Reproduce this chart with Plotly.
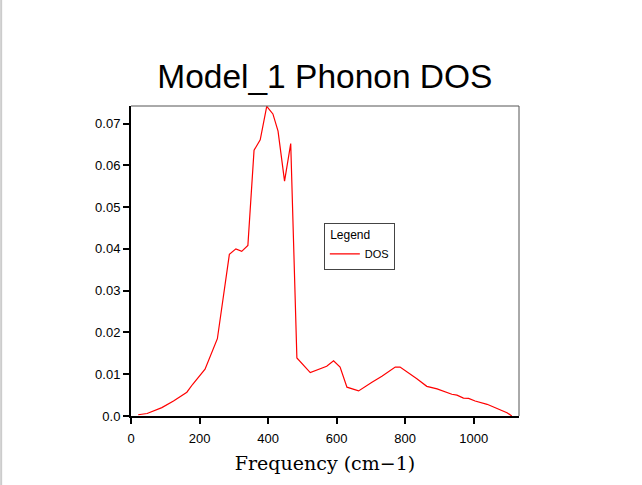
import plotly.graph_objects as go

# phonon density of states
freq = [21, 47, 90, 124, 163, 180, 216, 252, 287, 306, 323, 341, 359, 377,
        396, 414, 429, 448, 466, 484, 523, 571, 591, 610, 630, 664, 703, 732,
        771, 785, 834, 863, 893, 936, 951, 970, 985, 1004, 1039, 1077, 1097, 1111]
dos = [0.0003, 0.0006, 0.0020, 0.0036, 0.0057, 0.0076, 0.0112, 0.0185, 0.0387,
       0.0400, 0.0394, 0.0408, 0.0636, 0.0661, 0.0741, 0.0723, 0.0682, 0.0562,
       0.0652, 0.0139, 0.0104, 0.0119, 0.0132, 0.0117, 0.0069, 0.0060, 0.0081,
       0.0095, 0.0117, 0.0117, 0.0089, 0.0071, 0.0065, 0.0052, 0.0050, 0.0043,
       0.0042, 0.0036, 0.0028, 0.0016, 0.0008, 0.0]

x_ticks = [0, 200, 400, 600, 800, 1000]
y_ticks = [0.0, 0.01, 0.02, 0.03, 0.04, 0.05, 0.06, 0.07]
y_labels = ["0.0", "0.01", "0.02", "0.03", "0.04", "0.05", "0.06", "0.07"]

fig = go.Figure(go.Scatter(
    x=freq, y=dos, name="DOS", mode="lines",
    line=dict(color="#ff0000", width=1.2)))

fig.update_layout(
    width=642, height=485,
    margin=dict(l=131, r=123, t=106, b=69),
    paper_bgcolor="white", plot_bgcolor="white",
    font=dict(family="Liberation Sans, Arial, sans-serif", color="black", size=13),
    title=dict(text="Model_1 Phonon DOS", x=0.506, xanchor="center",
               y=0.843, yanchor="middle",
               font=dict(size=33.5, family="Liberation Sans, Arial, sans-serif")),
    showlegend=True,
    legend=dict(x=0.497, y=0.623, xanchor="left", yanchor="top",
                bordercolor="#444", borderwidth=1, bgcolor="white",
                title=dict(text=" Legend", font=dict(size=12)),
                font=dict(size=11), tracegroupgap=0),
)

fig.update_xaxes(
    range=[0, 1132], tickvals=x_ticks, showgrid=False, zeroline=False,
    showline=True, linecolor="black", linewidth=2,
    ticks="outside", ticklen=6, tickwidth=2, tickcolor="black",
    tickfont=dict(size=13), ticklabelstandoff=3,
    title=dict(text="Frequency (cm\u22121)", standoff=12,
               font=dict(family="DejaVu Serif, serif", size=19)))
fig.update_yaxes(
    range=[0, 0.0742], tickvals=y_ticks, ticktext=y_labels,
    showgrid=False, zeroline=False,
    showline=True, linecolor="black", linewidth=2,
    ticks="outside", ticklen=6, tickwidth=2, tickcolor="black",
    tickfont=dict(size=13))

# thin grey frame on top and right of the plot area
fig.add_shape(type="line", xref="paper", yref="paper", x0=0, x1=1, y0=1, y1=1,
              line=dict(color="#555", width=1))
fig.add_shape(type="line", xref="paper", yref="paper", x0=1, x1=1, y0=0, y1=1,
              line=dict(color="#555", width=1))
# faint grey edge at the left of the page
fig.add_shape(type="line", xref="paper", yref="paper",
              x0=-131 / 388 + 0.003, x1=-131 / 388 + 0.003, y0=-69 / 310, y1=1 + 106 / 310,
              line=dict(color="#cccccc", width=2))

# drop the default body margin so the figure sits at the page corner
fig.write_html("out.html", config={"displayModeBar": False},
               post_script="document.body.style.margin='0';")
